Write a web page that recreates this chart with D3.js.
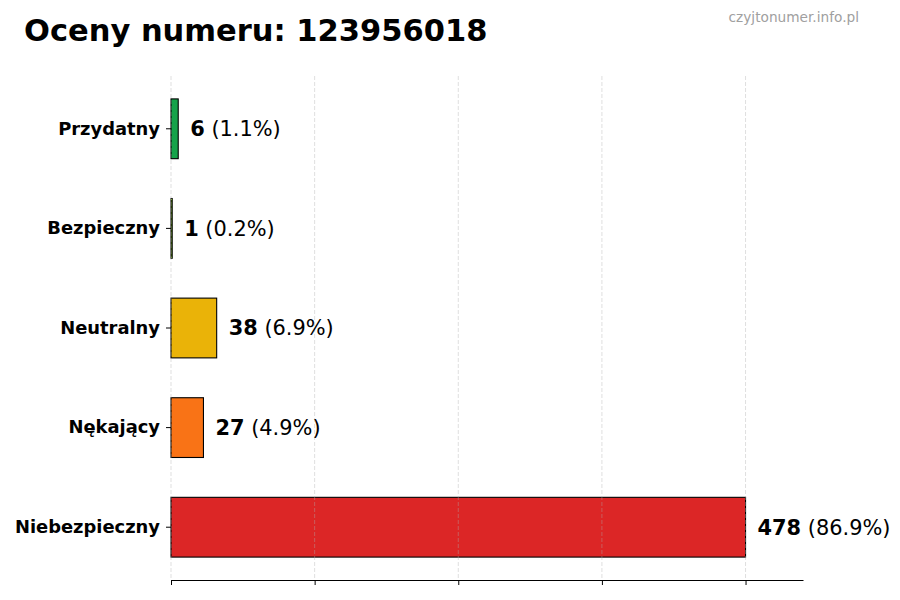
<!DOCTYPE html>
<html>
<head>
<meta charset="utf-8">
<script src="https://cdn.jsdelivr.net/npm/d3@7"></script>
<style>
  body { margin: 0; background: #fff; }
  svg { display: block; font-family: "DejaVu Sans", sans-serif; }
</style>
</head>
<body>
<div id="chart"></div>
<script>
// DATA
const categories = ["Niebezpieczny", "Nękający", "Neutralny", "Bezpieczny", "Przydatny"];
const counts = [478, 27, 38, 1, 6];
const percents = ["86.9%", "4.9%", "6.9%", "0.2%", "1.1%"];
const colors = ["#dc2626", "#f97316", "#eab308", "#84cc16", "#16a34a"];
const titleText = "Oceny numeru: 123956018";
const watermark = "czyjtonumer.info.pl";

// CONSTANTS
const width = 900,
    height = 600,
    margin = { top: 76, bottom: 20, left: 171, right: 97 };

const svg = d3.select("#chart")
    .append("svg")
    .attr("width", width)
    .attr("height", height);

const maxVal = d3.max(counts);

// SCALES
const xScale = d3.scaleLinear()
    .domain([0, maxVal * 1.1])
    .range([margin.left, width - margin.right]);

const yScale = d3.scaleBand()
    .domain(categories.slice().reverse())
    .range([margin.top, height - margin.bottom])
    .paddingInner(0.4)
    .paddingOuter(0.23);

// ticks like linspace(0, max, 5)
const xTicks = d3.range(5).map(i => maxVal * i / 4);

// bars
svg.append("g")
    .selectAll("rect")
    .data(categories)
    .join("rect")
    .attr("x", xScale(0))
    .attr("y", d => yScale(d))
    .attr("width", (d, i) => xScale(counts[i]) - xScale(0))
    .attr("height", yScale.bandwidth())
    .attr("fill", (d, i) => colors[i])
    .attr("stroke", "#000")
    .attr("stroke-width", 1.1);

// grid (drawn over bars)
svg.append("g")
    .selectAll("line")
    .data(xTicks)
    .join("line")
    .attr("x1", d => xScale(d))
    .attr("x2", d => xScale(d))
    .attr("y1", margin.top)
    .attr("y2", height - margin.bottom)
    .attr("stroke", "#b0b0b0")
    .attr("stroke-opacity", 0.5)
    .attr("stroke-dasharray", "4,2")
    .attr("stroke-width", 0.8);

// x axis: ticks, no labels
const xAxis = d3.axisBottom(xScale)
    .tickValues(xTicks)
    .tickFormat("")
    .tickSize(5)
    .tickSizeOuter(0);

svg.append("g")
    .attr("transform", `translate(0,${height - margin.bottom})`)
    .call(xAxis)
    .call(g => g.selectAll("line, path").attr("stroke", "#000").attr("stroke-width", 1));

// y axis: tick marks + bold labels, no spine
const yAxis = d3.axisLeft(yScale)
    .tickSize(5)
    .tickPadding(6);

svg.append("g")
    .attr("transform", `translate(${margin.left},0)`)
    .call(yAxis)
    .call(g => g.select(".domain").remove())
    .call(g => g.selectAll("line").attr("stroke", "#000"))
    .call(g => g.selectAll("text")
        .attr("font-family", "DejaVu Sans")
        .attr("font-size", 17.9)
        .attr("font-weight", "bold")
        .attr("fill", "#000"));

// value labels
const labels = svg.append("g")
    .selectAll("text")
    .data(categories)
    .join("text")
    .attr("x", (d, i) => xScale(counts[i]) + 12)
    .attr("y", d => yScale(d) + yScale.bandwidth() / 2)
    .attr("dy", "0.35em")
    .attr("font-size", 20.9)
    .attr("fill", "#000");

labels.append("tspan")
    .attr("font-weight", "bold")
    .text((d, i) => counts[i]);

labels.append("tspan")
    .text((d, i) => ` (${percents[i]})`);

// title
svg.append("text")
    .attr("x", 24)
    .attr("y", 41)
    .attr("font-size", 30.5)
    .attr("font-weight", "bold")
    .attr("fill", "#000")
    .text(titleText);

// watermark
svg.append("text")
    .attr("x", 859)
    .attr("y", 22)
    .attr("text-anchor", "end")
    .attr("font-size", 13.7)
    .attr("fill", "#a0a0a0")
    .text(watermark);
</script>
</body>
</html>
